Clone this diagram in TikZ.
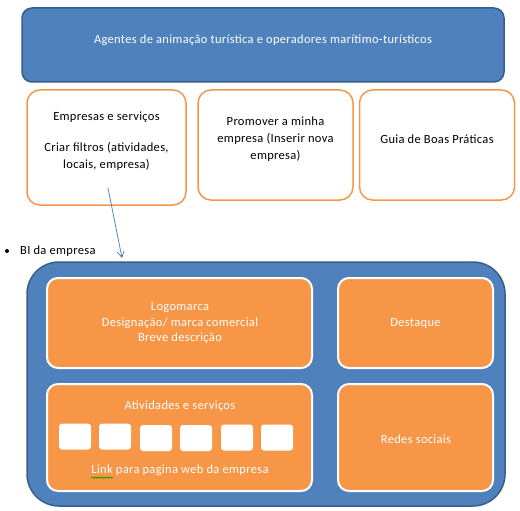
\documentclass[tikz,border=0pt]{standalone}
\usepackage{fontspec}
\setmainfont[LetterSpace=2.5]{Carlito}
\usetikzlibrary{arrows.meta,decorations.pathmorphing}
\definecolor{bfill}{HTML}{4F81BD}
\definecolor{bline}{HTML}{385D8A}
\definecolor{ofill}{HTML}{F79646}
\definecolor{arrblue}{HTML}{4A7EBB}
\begin{document}
\begin{tikzpicture}[x=1pt,y=-1pt,
  bluebox/.style={draw=bline,fill=bfill,line width=1.5pt,rounded corners=10pt,inner sep=0pt},
  outbox/.style={draw=ofill,fill=white,line width=1.5pt,rounded corners=13pt,inner sep=0pt},
  orbox/.style={draw=white,fill=ofill,line width=2pt,rounded corners=11pt,inner sep=0pt},
  chip/.style={fill=white,rounded corners=3pt,inner sep=0pt,minimum width=32pt,minimum height=26pt},
  wtxt/.style={text=white,align=center,font=\fontsize{12.5pt}{15.5pt}\selectfont,inner sep=0pt},
  ktxt/.style={text=black,align=center,font=\fontsize{12.5pt}{17pt}\selectfont,inner sep=0pt}]
\useasboundingbox (0,0) rectangle (520,511);
% top box
\node[bluebox,minimum width=482pt,minimum height=74pt] (top) at (263,45) {};
\node[wtxt] (toptxt) at (263,40) {Agentes de animação turística e operadores marítimo-turísticos};
% outline boxes
\node[outbox,minimum width=159pt,minimum height=115pt] (b1) at (106.5,147.5) {};
\node[outbox,minimum width=155pt,minimum height=110pt] (b2) at (275.5,145) {};
\node[outbox,minimum width=155pt,minimum height=110pt] (b3) at (437,145) {};
\node[ktxt] (b1a) at (106.5,117) {Empresas e serviços};
\node[ktxt] (b1b) at (106.5,156.5) {Criar filtros (atividades,\\locais, empresa)};
\node[ktxt] (b2t) at (275.5,139) {Promover a minha\\empresa (Inserir nova\\empresa)};
\node[ktxt] (b3t) at (437,139) {Guia de Boas Práticas};
% bullet
\fill (7,251) circle (2pt);
\node[ktxt,anchor=west] (bi) at (20,251) {BI da empresa};
% big blue box
\node[bluebox,rounded corners=32pt,minimum width=478pt,minimum height=244pt] (big) at (266,384) {};
% arrow
\coordinate (as) at (108,188);
\coordinate (ae) at (122,258);
\draw[arrblue,line width=0.75pt,-{Straight Barb[length=6pt,width=7pt]}] (as) -- (ae);
% inner orange boxes
\node[orbox,minimum width=265pt,minimum height=90pt] (logo) at (179.5,323) {};
\node[orbox,minimum width=155pt,minimum height=90pt] (dest) at (415.5,323) {};
\node[orbox,minimum width=265pt,minimum height=107pt] (ativ) at (179.5,437.5) {};
\node[orbox,minimum width=155pt,minimum height=107pt] (redes) at (415.5,437.5) {};
\node[wtxt] (logot) at (180,323.5) {Logomarca\\Designação/ marca comercial\\Breve descrição};
\node[wtxt] (destt) at (415.5,323) {Destaque};
\node[wtxt] (ativt) at (180,406) {Atividades e serviços};
\node[wtxt] (linkt) at (180,470) {Link para pagina web da empresa};
\node[wtxt] (redest) at (416,439) {Redes sociais};
% chips
\node[chip] (c1) at (75,436.5) {};
\node[chip] (c2) at (115,436.5) {};
\node[chip] (c3) at (156,438) {};
\node[chip] (c4) at (196,438) {};
\node[chip] (c5) at (237,437.5) {};
\node[chip] (c6) at (277,437.5) {};
% spellcheck underline
\draw[green!60!black,line width=0.6pt,decorate,decoration={snake,segment length=3pt,amplitude=0.7pt}]
  ([yshift=-2pt]linkt.south west) -- ++(22,0);
\end{tikzpicture}
\end{document}
